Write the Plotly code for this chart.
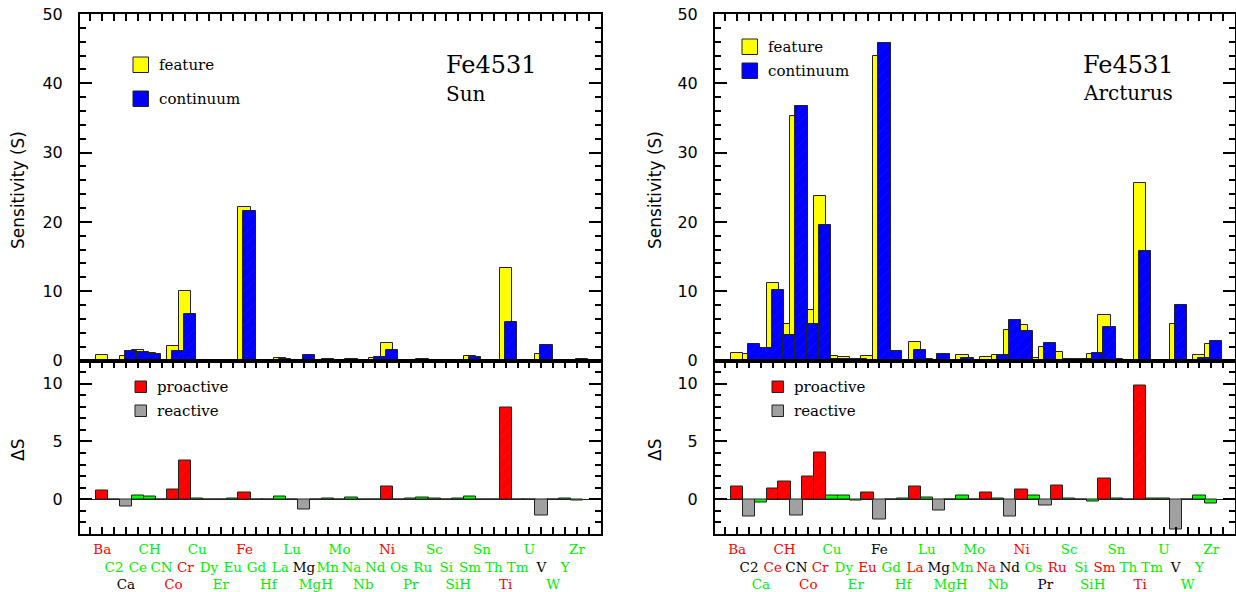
import plotly.graph_objects as go

W, H = 1236, 592
SERIF = "DejaVu Serif"
SANS = "DejaVu Sans"

# element names, alphabetical order as on the x axis
elements = ["Ba", "C2", "Ca", "Ce", "CH", "CN", "Co", "Cr", "Cu", "Dy", "Er",
            "Eu", "Fe", "Gd", "Hf", "La", "Lu", "Mg", "MgH", "Mn", "Mo", "Na",
            "Nb", "Nd", "Ni", "Os", "Pr", "Ru", "Sc", "Si", "SiH", "Sm", "Sn",
            "Th", "Ti", "Tm", "U", "V", "W", "Y", "Zr"]

# Sun: sensitivity of feature / continuum and the difference dS
sun_feature = [0.75, 0.0, 0.65, 1.5, 1.15, 0.0, 2.15, 10.1, 0.1, 0.0, 0.0,
               0.1, 22.2, 0.0, 0.0, 0.4, 0.0, 0.0, 0.0, 0.15, 0.0, 0.15,
               0.0, 0.4, 2.55, 0.0, 0.1, 0.15, 0.05, 0.05, 0.05, 0.7, 0.0,
               0.0, 13.4, 0.0, 0.0, 0.9, 0.0, 0.05, 0.05]
sun_continuum = [0.0, 0.0, 1.3, 1.25, 0.95, 0.0, 1.35, 6.75, 0.05, 0.0, 0.0,
                 0.0, 21.6, 0.0, 0.0, 0.15, 0.0, 0.85, 0.0, 0.08, 0.0, 0.0,
                 0.0, 0.5, 1.45, 0.0, 0.05, 0.05, 0.0, 0.05, 0.0, 0.45, 0.0,
                 0.0, 5.5, 0.0, 0.0, 2.3, 0.0, 0.0, 0.15]
sun_delta = [0.8, 0.0, -0.63, 0.3, 0.2, 0.0, 0.83, 3.36, 0.1, 0.0, 0.0,
             0.1, 0.6, 0.0, 0.0, 0.26, 0.0, -0.89, 0.0, 0.08, 0.0, 0.15,
             0.0, -0.05, 1.12, 0.0, 0.05, 0.12, 0.05, 0.0, 0.05, 0.25, 0.0,
             0.0, 7.96, 0.0, 0.0, -1.38, 0.0, 0.03, -0.1]
# p = proactive (red), r = reactive (black/grey), n = neither (green)
sun_role = ["p", "n", "r", "n", "n", "n", "p", "p", "n", "n", "n",
            "n", "p", "n", "n", "n", "n", "r", "n", "n", "n", "n",
            "n", "n", "p", "n", "n", "n", "n", "n", "n", "n", "n",
            "n", "p", "n", "n", "r", "n", "n", "n"]

# Arcturus
arc_feature = [1.1, 0.9, 1.5, 11.2, 5.3, 35.3, 7.3, 23.7, 0.6, 0.55, 0.1,
               0.6, 44.0, 1.3, 0.05, 2.6, 0.15, 0.0, 0.1, 0.8, 0.05, 0.5,
               0.8, 4.4, 5.1, 0.35, 2.0, 1.25, 0.2, 0.2, 0.9, 6.6, 0.15,
               0.1, 25.6, 0.05, 0.1, 5.3, 0.0, 0.75, 2.45]
arc_continuum = [0.0, 2.45, 1.8, 10.2, 3.7, 36.7, 5.3, 19.6, 0.25, 0.2, 0.2,
                 0.05, 45.8, 1.35, 0.0, 1.55, 0.05, 0.95, 0.1, 0.43, 0.05, 0.0,
                 0.75, 5.9, 4.2, 0.05, 2.5, 0.1, 0.1, 0.2, 1.1, 4.8, 0.05,
                 0.1, 15.8, 0.0, 0.05, 7.95, 0.0, 0.43, 2.8]
arc_delta = [1.09, -1.52, -0.29, 0.92, 1.55, -1.44, 1.98, 4.02, 0.37, 0.37, -0.14,
             0.6, -1.72, 0.02, 0.05, 1.09, 0.12, -0.98, 0.02, 0.37, 0.02, 0.55,
             0.05, -1.49, 0.89, 0.29, -0.52, 1.18, 0.1, 0.02, -0.2, 1.81, 0.1,
             0.02, 9.8, 0.05, 0.05, -2.64, 0.02, 0.32, -0.34]
arc_role = ["p", "r", "n", "p", "p", "r", "p", "p", "n", "n", "n",
            "p", "r", "n", "n", "p", "n", "r", "n", "n", "n", "p",
            "n", "r", "p", "n", "r", "p", "n", "n", "n", "p", "n",
            "n", "p", "n", "n", "r", "n", "n", "n"]

ROLE_BAR = {"p": "#ff0000", "r": "#a0a0a0", "n": "#00ff00"}
ROLE_TEXT = {"p": "#ff0000", "r": "#000000", "n": "#00ee00"}
OUTLINE = dict(color="#222222", width=1)
HATCH = dict(shape="/", fgcolor="white", fgopacity=0.12, size=8, solidity=0.06)

idx = list(range(len(elements)))
XRANGE = [-1.87, 42.0]


def px(x):
    # pixel -> paper fraction
    return x / W


def py(y):
    return 1 - y / H


def tick_labels(roles):
    vals, texts = [], []
    for k in range(-1, 42):
        vals.append(k)
        if 0 <= k < len(elements):
            row = [0, 1, 2, 1][k % 4]
            texts.append("<br>" * row + '<span style="color:%s">%s</span>'
                         % (ROLE_TEXT[roles[k]], elements[k]))
        else:
            texts.append("")
    return vals, texts


fig = go.Figure()

panels = [
    ("x", "y", "x2", "y2", sun_feature, sun_continuum, sun_delta, sun_role),
    ("x3", "y3", "x4", "y4", arc_feature, arc_continuum, arc_delta, arc_role),
]
for xt, yt, xb, yb, feat, cont, delta, role in panels:
    fig.add_trace(go.Bar(x=idx, y=feat, offset=-0.52, width=1.04, xaxis=xt, yaxis=yt,
                         marker=dict(color="#ffff00", line=OUTLINE), showlegend=False))
    fig.add_trace(go.Bar(x=idx, y=cont, offset=-0.1, width=1.04, xaxis=xt, yaxis=yt,
                         marker=dict(color="#0000ff", line=OUTLINE, pattern=HATCH),
                         showlegend=False))
    for r in ["n", "r", "p"]:
        yy = [d if rr == r else None for d, rr in zip(delta, role)]
        mk = dict(color=ROLE_BAR[r], line=OUTLINE)
        if r != "n":
            mk["pattern"] = HATCH
        fig.add_trace(go.Bar(x=idx, y=yy, offset=-0.52, width=1.04, xaxis=xb, yaxis=yb,
                             marker=mk, showlegend=False))

frame = dict(showline=True, linecolor="black", linewidth=2, showgrid=False,
             zeroline=False, automargin=False, tickcolor="black",
             ticklabeloverflow="allow")
xtop = dict(frame, range=XRANGE, side="top", ticks="inside", ticklen=7, tickwidth=1.5,
            tickvals=list(range(-1, 42)), showticklabels=False, mirror=True)
ytop = dict(frame, range=[0, 50], ticks="inside", ticklen=12, tickwidth=1.5,
            tickvals=[0, 10, 20, 30, 40, 50], mirror="ticks", ticklabelstandoff=12,
            tickfont=dict(family=SANS, size=16, color="black"),
            minor=dict(dtick=2, ticks="inside", ticklen=6, tickwidth=1.5, tickcolor="black"))
ybot = dict(frame, range=[-3, 12], ticks="inside", ticklen=12, tickwidth=1.5,
            tickvals=[0, 5, 10], mirror="ticks", ticklabelstandoff=12,
            tickfont=dict(family=SANS, size=16, color="black"),
            zeroline=True, zerolinecolor="#222222", zerolinewidth=1,
            minor=dict(dtick=1, ticks="inside", ticklen=6, tickwidth=1.5, tickcolor="black"))


def xbot(roles):
    vals, texts = tick_labels(roles)
    return dict(frame, range=XRANGE, ticks="inside", ticklen=7, tickwidth=1.5,
                tickvals=vals, ticktext=texts, mirror="ticks", tickangle=0,
                ticklabelstandoff=2,
                tickfont=dict(family=SERIF, size=13.5, color="black"))


dom_l = [px(80), px(600.7)]
dom_r = [px(715), px(1235)]
dom_t = [py(360.5), py(14)]
dom_b = [py(534), py(360.5)]

fig.update_layout(
    width=W, height=H,
    margin=dict(l=0, r=0, t=0, b=0),
    paper_bgcolor="white", plot_bgcolor="white",
    barmode="overlay", bargap=0,
    xaxis=dict(xtop, domain=dom_l, anchor="y"),
    yaxis=dict(ytop, domain=dom_t, anchor="x"),
    xaxis2=dict(xbot(sun_role), domain=dom_l, anchor="y2"),
    yaxis2=dict(ybot, domain=dom_b, anchor="x2"),
    xaxis3=dict(xtop, domain=dom_r, anchor="y3"),
    yaxis3=dict(ytop, domain=dom_t, anchor="x3"),
    xaxis4=dict(xbot(arc_role), domain=dom_r, anchor="y4"),
    yaxis4=dict(ybot, domain=dom_b, anchor="x4"),
)

shapes = []
annotations = []


def legend_item(x0, y0, size, color, label, fsize):
    shapes.append(dict(type="rect", xref="paper", yref="paper",
                       x0=px(x0), x1=px(x0 + size), y0=py(y0 + size), y1=py(y0),
                       fillcolor=color, line=dict(color="#222222", width=1)))
    annotations.append(dict(xref="paper", yref="paper", x=px(x0 + size + 8), y=py(y0 + size / 2),
                            text=label, showarrow=False, xanchor="left", yanchor="middle",
                            font=dict(family=SERIF, size=fsize, color="black")))


def text(x, y, s, size, angle=0, family=SERIF, xanchor="left"):
    annotations.append(dict(xref="paper", yref="paper", x=px(x), y=py(y), text=s,
                            showarrow=False, xanchor=xanchor, yanchor="middle",
                            textangle=angle, font=dict(family=family, size=size, color="black")))


# left panel legends and labels
legend_item(133, 57, 15.5, "#ffff00", "feature", 15)
legend_item(133, 91, 15.5, "#0000ff", "continuum", 15)
legend_item(135, 381, 11.5, "#ff0000", "proactive", 15)
legend_item(135, 405, 11.5, "#a0a0a0", "reactive", 15)
text(444, 65, "Fe4531", 24)
text(444, 94, "Sun", 20)
text(18, 190, "Sensitivity (S)", 17, angle=-90, family=SANS, xanchor="center")
text(18, 450, "ΔS", 17, angle=-90, family=SANS, xanchor="center")

# right panel legends and labels
legend_item(742, 39, 15.5, "#ffff00", "feature", 15)
legend_item(742, 63, 15.5, "#0000ff", "continuum", 15)
legend_item(772, 381, 11.5, "#ff0000", "proactive", 15)
legend_item(772, 405, 11.5, "#a0a0a0", "reactive", 15)
text(1081, 65, "Fe4531", 24)
text(1081, 93, "Arcturus", 20)
text(655, 190, "Sensitivity (S)", 17, angle=-90, family=SANS, xanchor="center")
text(655, 450, "ΔS", 17, angle=-90, family=SANS, xanchor="center")

fig.update_layout(shapes=shapes, annotations=annotations)

# drop the browser's default 8px page margin so the figure fills the window
fig.write_html("out.html", config={"displayModeBar": False},
               post_script="document.body.style.margin='0';")
